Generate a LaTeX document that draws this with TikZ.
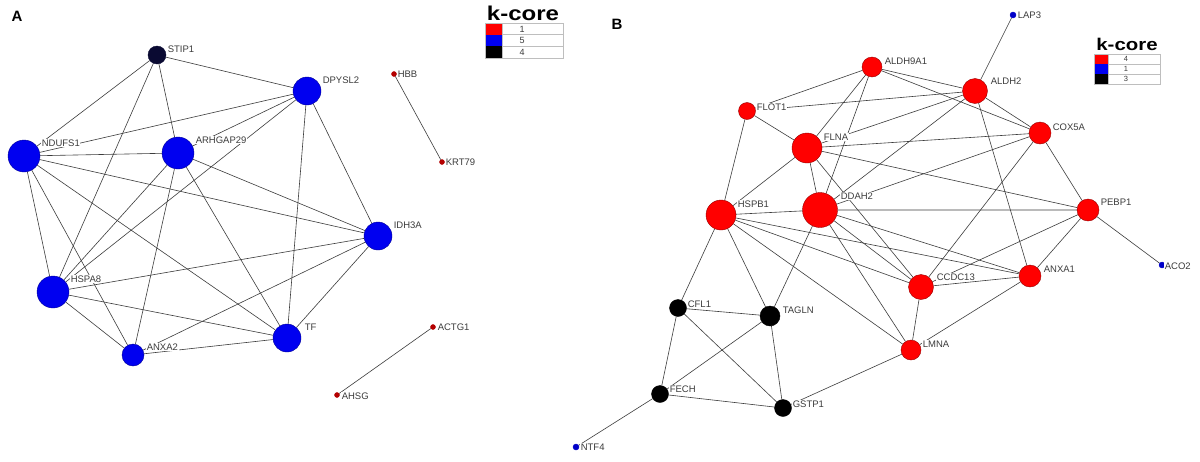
\documentclass[tikz,border=0pt]{standalone}
\usepackage{fontspec}
\setmainfont{Liberation Sans}
\usetikzlibrary{backgrounds}
\definecolor{coreblue}{RGB}{0,0,240}
\definecolor{corebluedark}{RGB}{0,0,150}
\definecolor{corered}{RGB}{255,0,0}
\definecolor{coreredrim}{RGB}{150,0,0}
\definecolor{corenavy}{RGB}{10,10,50}
\definecolor{dotred}{RGB}{180,0,0}
\definecolor{dotblue}{RGB}{0,0,200}
\definecolor{labelgray}{RGB}{60,60,60}
\definecolor{edgegray}{RGB}{60,60,60}
\definecolor{cellgray}{RGB}{190,190,190}
\tikzset{
  gene/.style={circle, inner sep=0pt, line width=0.4pt},
  bluegene/.style={gene, fill=coreblue, draw=corebluedark, minimum size=#1},
  redgene/.style={gene, fill=corered, draw=coreredrim, minimum size=#1},
  blackgene/.style={gene, fill=black, draw=black, minimum size=#1},
  tinyred/.style={gene, fill=dotred, draw=dotred, minimum size=5pt},
  tinyblue/.style={gene, fill=dotblue, draw=dotblue, minimum size=6pt},
  edge/.style={draw=edgegray, line width=0.6pt},
  lbl/.style={anchor=west, font=\fontsize{9.5}{10}\selectfont, text=labelgray, fill=white, inner sep=0.6pt},
  panel/.style={font=\fontsize{15}{15}\selectfont\bfseries},
  legendtitle/.style={anchor=base, font=\fontsize{#1}{#1}\selectfont\bfseries, xscale=1.2, transform shape},
  cellnum/.style={font=\fontsize{#1}{#1}\selectfont, text=labelgray, inner sep=0pt}
}
\begin{document}
\begin{tikzpicture}[x=1pt,y=-1pt]
\useasboundingbox (0,0) rectangle (1200,461);
\begin{scope}[on background layer]
\fill[white] (0,0) rectangle (1200,461);
\end{scope}

% panel A
\node[panel] (A) at (17,16) {A};
\node[gene, fill=corenavy, draw=corenavy, minimum size=18pt] (stip1) at (157,55) {};
\node[bluegene=28pt] (dpysl2) at (307,91) {};
\node[bluegene=32pt] (ndufs1) at (24,156) {};
\node[bluegene=32pt] (arhgap29) at (178,153) {};
\node[bluegene=28pt] (idh3a) at (378,236) {};
\node[bluegene=32pt] (hspa8) at (53,292) {};
\node[bluegene=28pt] (tf) at (287,338) {};
\node[bluegene=22pt] (anxa2) at (133,355) {};
\node[tinyred] (hbb) at (394,74) {};
\node[tinyred] (krt79) at (442,162) {};
\node[tinyred] (actg1) at (433,327) {};
\node[tinyred] (ahsg) at (337,395) {};

\begin{scope}[on background layer]
\draw[edge] (stip1) -- (dpysl2) (stip1) -- (ndufs1) (stip1) -- (hspa8) (stip1) -- (arhgap29);
\draw[edge] (ndufs1) -- (dpysl2) (ndufs1) -- (arhgap29) (ndufs1) -- (idh3a) (ndufs1) -- (hspa8) (ndufs1) -- (anxa2) (ndufs1) -- (tf);
\draw[edge] (arhgap29) -- (dpysl2) (arhgap29) -- (hspa8) (arhgap29) -- (anxa2) (arhgap29) -- (tf) (arhgap29) -- (idh3a);
\draw[edge] (dpysl2) -- (hspa8) (dpysl2) -- (tf) (dpysl2) -- (idh3a);
\draw[edge] (idh3a) -- (hspa8) (idh3a) -- (anxa2) (idh3a) -- (tf);
\draw[edge] (hspa8) -- (tf) (hspa8) -- (anxa2) (anxa2) -- (tf);
\draw[edge] (hbb) -- (krt79) (actg1) -- (ahsg);
\end{scope}

\node[lbl] (stip1-l) at (167,49) {STIP1};
\node[lbl] (dpysl2-l) at (322,80) {DPYSL2};
\node[lbl] (ndufs1-l) at (41,143) {NDUFS1};
\node[lbl] (arhgap29-l) at (195,140) {ARHGAP29};
\node[lbl] (idh3a-l) at (393,225) {IDH3A};
\node[lbl] (hspa8-l) at (70,279) {HSPA8};
\node[lbl] (tf-l) at (304,327) {TF};
\node[lbl] (anxa2-l) at (146,347) {ANXA2};
\node[lbl] (hbb-l) at (397,74) {HBB};
\node[lbl] (krt79-l) at (445,162) {KRT79};
\node[lbl] (actg1-l) at (437,327) {ACTG1};
\node[lbl] (ahsg-l) at (341,396) {AHSG};

% legend A
\node[legendtitle=20] (kcoreA) at (523,20) {k-core};
\fill[corered] (485,23) rectangle (502,34.7);
\fill[coreblue] (485,34.7) rectangle (502,46.3);
\fill[black] (485,46.3) rectangle (502,58);
\draw[cellgray, line width=0.5pt] (485,23) rectangle (563,58) (502,34.7) -- (563,34.7) (502,46.3) -- (563,46.3) (502,23) -- (502,58);
\node[cellnum=9] (numA1) at (522,29) {1};
\node[cellnum=9] (numA2) at (522,40.6) {5};
\node[cellnum=9] (numA3) at (522,52.2) {4};

% panel B
\node[panel] (B) at (617,24) {B};
\node[tinyblue] (lap3) at (1013,15) {};
\node[redgene=20pt] (aldh9a1) at (872,67) {};
\node[redgene=25pt] (aldh2) at (975,91) {};
\node[redgene=17pt] (flot1) at (747,111) {};
\node[redgene=22pt] (cox5a) at (1040,133) {};
\node[redgene=30pt] (flna) at (807,148) {};
\node[redgene=35pt] (ddah2) at (820,210) {};
\node[redgene=30pt] (hspb1) at (721,215) {};
\node[redgene=22pt] (pebp1) at (1088,210) {};
\node[tinyblue] (aco2) at (1162,265) {};
\node[redgene=25pt] (ccdc13) at (921,287) {};
\node[redgene=22pt] (anxa1) at (1030,276) {};
\node[blackgene=17pt] (cfl1) at (678,308) {};
\node[blackgene=20pt] (tagln) at (770,316) {};
\node[redgene=20pt] (lmna) at (911,350) {};
\node[blackgene=17pt] (fech) at (660,394) {};
\node[blackgene=17pt] (gstp1) at (783,408) {};
\node[tinyblue] (ntf4) at (576,447) {};

\begin{scope}[on background layer]
\draw[edge] (lap3) -- (aldh2);
\draw[edge] (aldh9a1) -- (flot1) (aldh9a1) -- (flna) (aldh9a1) -- (ddah2) (aldh9a1) -- (aldh2) (aldh9a1) -- (cox5a);
\draw[edge] (flot1) -- (aldh2) (flot1) -- (flna) (flot1) -- (hspb1);
\draw[edge] (flna) -- (aldh2) (flna) -- (cox5a) (flna) -- (pebp1) (flna) -- (ddah2) (flna) -- (hspb1) (flna) -- (ccdc13);
\draw[edge] (ddah2) -- (aldh2) (ddah2) -- (cox5a) (ddah2) -- (pebp1) (ddah2) -- (hspb1) (ddah2) -- (anxa1) (ddah2) -- (ccdc13) (ddah2) -- (lmna) (ddah2) -- (tagln);
\draw[edge] (aldh2) -- (cox5a) (aldh2) -- (anxa1);
\draw[edge] (cox5a) -- (pebp1) (cox5a) -- (ccdc13);
\draw[edge] (pebp1) -- (aco2) (pebp1) -- (anxa1) (pebp1) -- (ccdc13);
\draw[edge] (hspb1) -- (anxa1) (hspb1) -- (ccdc13) (hspb1) -- (lmna) (hspb1) -- (tagln) (hspb1) -- (cfl1);
\draw[edge] (ccdc13) -- (anxa1) (ccdc13) -- (lmna) (anxa1) -- (lmna) (lmna) -- (gstp1);
\draw[edge] (cfl1) -- (tagln) (cfl1) -- (fech) (cfl1) -- (gstp1);
\draw[edge] (tagln) -- (fech) (tagln) -- (gstp1);
\draw[edge] (fech) -- (gstp1) (fech) -- (ntf4);
\end{scope}

\node[lbl] (lap3-l) at (1017,15) {LAP3};
\node[lbl] (aldh9a1-l) at (884,61) {ALDH9A1};
\node[lbl] (aldh2-l) at (990,81) {ALDH2};
\node[lbl] (flot1-l) at (756,107) {FLOT1};
\node[lbl] (cox5a-l) at (1052,127) {COX5A};
\node[lbl] (flna-l) at (823,137) {FLNA};
\node[lbl] (ddah2-l) at (840,196) {DDAH2};
\node[lbl] (hspb1-l) at (737,204) {HSPB1};
\node[lbl] (pebp1-l) at (1100,202) {PEBP1};
\node[lbl] (aco2-l) at (1164,266) {ACO2};
\node[lbl] (anxa1-l) at (1043,269) {ANXA1};
\node[lbl] (ccdc13-l) at (936,277) {CCDC13};
\node[lbl] (cfl1-l) at (687,304) {CFL1};
\node[lbl] (tagln-l) at (782,310) {TAGLN};
\node[lbl] (lmna-l) at (922,344) {LMNA};
\node[lbl] (fech-l) at (669,389) {FECH};
\node[lbl] (gstp1-l) at (792,404) {GSTP1};
\node[lbl] (ntf4-l) at (580,447) {NTF4};

% legend B
\node[legendtitle=17] (kcoreB) at (1127,50.5) {k-core};
\fill[corered] (1094,54) rectangle (1108,64);
\fill[coreblue] (1094,64) rectangle (1108,74);
\fill[black] (1094,74) rectangle (1108,84);
\draw[cellgray, line width=0.5pt] (1094,54) rectangle (1160,84) (1108,64) -- (1160,64) (1108,74) -- (1160,74) (1108,54) -- (1108,84);
\node[cellnum=7.5] (numB1) at (1126,59) {4};
\node[cellnum=7.5] (numB2) at (1126,69) {1};
\node[cellnum=7.5] (numB3) at (1126,79) {3};
\end{tikzpicture}
\end{document}
